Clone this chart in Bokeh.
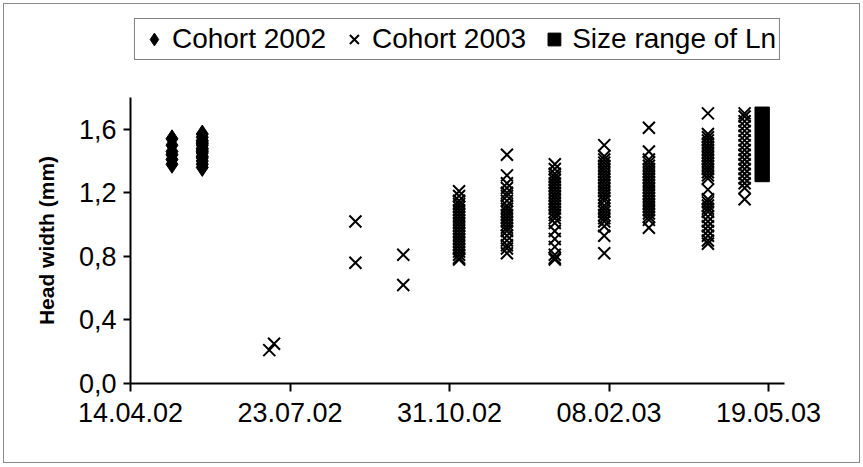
import pandas as pd
from bokeh.plotting import figure
from bokeh.layouts import column
from bokeh.models import (ColumnDataSource, FixedTicker, DatetimeTickFormatter,
                          CustomJSTickFormatter, Legend, LegendItem, Range1d)
from bokeh.embed import file_html
from bokeh.resources import INLINE

# ---------------- data ----------------
dates_2002 = ["2002-05-10", "2002-05-29"]
hw_2002 = [
    [1.38, 1.41, 1.44, 1.46, 1.50, 1.54],
    [1.36, 1.38, 1.40, 1.42, 1.43, 1.45, 1.46, 1.47, 1.48, 1.50, 1.51, 1.52, 1.53, 1.55, 1.57],
]

dates_2003 = ["2002-07-10", "2002-07-13", "2002-09-02", "2002-10-02", "2002-11-06",
              "2002-12-06", "2003-01-05", "2003-02-05", "2003-03-05", "2003-04-11",
              "2003-05-04"]
hw_2003 = [
    [0.21],
    [0.25],
    [1.02, 0.76],
    [0.81, 0.62],
    [1.21, 1.18, 1.15, 1.13, 1.11, 1.09, 1.07, 1.05, 1.03, 1.01, 0.99, 0.97, 0.95,
     0.93, 0.91, 0.89, 0.87, 0.85, 0.83, 0.81, 0.79, 0.78],
    [1.44, 1.31, 1.26, 1.23, 1.20, 1.18, 1.15, 1.12, 1.10, 1.08, 1.06, 1.04, 1.02,
     1.00, 0.98, 0.96, 0.93, 0.90, 0.87, 0.85, 0.82],
    [1.38, 1.35, 1.32, 1.30, 1.28, 1.26, 1.24, 1.22, 1.20, 1.18, 1.16, 1.14, 1.12,
     1.10, 1.08, 1.06, 1.04, 1.01, 0.96, 0.91, 0.86, 0.81, 0.79, 0.78],
    [1.50, 1.43, 1.41, 1.39, 1.37, 1.35, 1.33, 1.31, 1.29, 1.27, 1.25, 1.23, 1.21,
     1.19, 1.17, 1.15, 1.12, 1.10, 1.08, 1.06, 1.04, 1.02, 0.99, 0.93, 0.82],
    [1.61, 1.46, 1.41, 1.39, 1.37, 1.35, 1.33, 1.31, 1.29, 1.27, 1.25, 1.23, 1.21,
     1.19, 1.17, 1.15, 1.13, 1.11, 1.09, 1.07, 1.05, 1.03, 0.98],
    [1.70, 1.57, 1.55, 1.53, 1.51, 1.49, 1.47, 1.45, 1.43, 1.41, 1.39, 1.37, 1.35,
     1.33, 1.31, 1.29, 1.22, 1.16, 1.14, 1.12, 1.10, 1.08, 1.05, 1.02, 0.99, 0.96,
     0.93, 0.90, 0.88],
    [1.70, 1.68, 1.65, 1.62, 1.59, 1.56, 1.53, 1.50, 1.47, 1.44, 1.41, 1.38, 1.35,
     1.32, 1.29, 1.26, 1.23, 1.16],
]

ln_date = ["2003-05-15"]
ln_min = [1.27]
ln_max = [1.74]
ln_width_days = 9

tick_dates = ["2002-04-14", "2002-07-23", "2002-10-31", "2003-02-08", "2003-05-19"]
x_start, x_end = "2002-04-14", "2003-05-29"
y_ticks = [0.0, 0.4, 0.8, 1.2, 1.6]
y_axis_min, y_axis_max = 0.0, 1.8

# ---------------- layout constants (pixels) ----------------
W = 863
LEG_H = 97            # strip above the plot that holds the legend
PLOT_H = 369
LEFT, RIGHT, BOTTOM = 130, 79, 83

# ---------------- build sources ----------------
def flatten(dates, vals):
    xs, ys = [], []
    for d, vv in zip(dates, vals):
        for v in vv:
            xs.append(pd.Timestamp(d))
            ys.append(v)
    return ColumnDataSource(dict(x=xs, y=ys))

src02 = flatten(dates_2002, hw_2002)
src03 = flatten(dates_2003, hw_2003)
src_ln = ColumnDataSource(dict(x=pd.to_datetime(ln_date), bottom=ln_min, top=ln_max))

FONT = "Liberation Sans"

# ---------------- main plot ----------------
p = figure(width=W, height=PLOT_H, x_axis_type="datetime",
           output_backend="svg", toolbar_location=None,
           x_range=Range1d(pd.Timestamp(x_start), pd.Timestamp(x_end)),
           y_range=Range1d(y_axis_min, y_axis_max),
           min_border_left=LEFT, min_border_right=RIGHT,
           min_border_top=0, min_border_bottom=BOTTOM)

p.outline_line_color = None
p.grid.grid_line_color = None
p.background_fill_alpha = 0
p.border_fill_alpha = 0

p.scatter("x", "y", source=src02, marker="diamond", size=18,
          fill_color="black", line_color="black")
p.scatter("x", "y", source=src03, marker="x", size=17,
          line_color="black", line_width=2)
p.vbar(x="x", bottom="bottom", top="top", source=src_ln,
       width=ln_width_days * 86400000, fill_color="black", line_color="black")

# x axis
xa = p.xaxis[0]
xa.ticker = FixedTicker(ticks=[pd.Timestamp(d).value // 10**6 for d in tick_dates])
fmt = "%d.%m.%y"
xa.formatter = DatetimeTickFormatter(milliseconds=fmt, seconds=fmt, minsec=fmt,
                                     minutes=fmt, hourmin=fmt, hours=fmt, days=fmt,
                                     months=fmt, years=fmt)
xa.minor_tick_line_color = None
xa.major_tick_out = 8
xa.major_tick_in = 0
xa.major_label_standoff = 11

# y axis
ya = p.yaxis[0]
ya.ticker = FixedTicker(ticks=y_ticks)
ya.formatter = CustomJSTickFormatter(code="return tick.toFixed(1).replace('.', ',');")
ya.minor_tick_line_color = None
ya.major_tick_out = 7
ya.major_tick_in = 0
ya.major_label_standoff = 7
ya.axis_label = "Head width (mm)"
ya.axis_label_text_font = FONT
ya.axis_label_text_font_style = "bold"
ya.axis_label_text_font_size = "21px"
ya.axis_label_text_color = "black"
ya.axis_label_standoff = 18

for ax in (xa, ya):
    ax.axis_line_width = 2
    ax.axis_line_color = "black"
    ax.major_tick_line_width = 2
    ax.major_tick_line_color = "black"
    ax.major_label_text_font = FONT
    ax.major_label_text_font_size = "27px"
    ax.major_label_text_color = "black"

# ---------------- legend strip ----------------
lg = figure(width=W, height=LEG_H, output_backend="svg", toolbar_location=None,
            x_axis_location=None, y_axis_location=None,
            min_border=0, x_axis_type="datetime",
            x_range=Range1d(pd.Timestamp(x_start), pd.Timestamp(x_end)),
            y_range=Range1d(y_axis_min, y_axis_max))
lg.outline_line_color = None
lg.grid.grid_line_color = None
lg.background_fill_alpha = 0
lg.border_fill_alpha = 0

# zero-size markers sharing the data sources; they only provide the legend swatches
k02 = lg.scatter("x", "y", source=src02, marker="diamond", size=0,
                 fill_color="black", line_color="black")
k03 = lg.scatter("x", "y", source=src03, marker="x", size=0,
                 line_color="black", line_width=2)
kln = lg.scatter("x", "top", source=src_ln, marker="square", size=0,
                 fill_color="black", line_color="black")

legend = Legend(items=[LegendItem(label="Cohort 2002", renderers=[k02]),
                       LegendItem(label="Cohort 2003", renderers=[k03]),
                       LegendItem(label="Size range of Ln", renderers=[kln])],
                orientation="horizontal", location="top_center",
                label_text_font=FONT, label_text_font_size="28px",
                label_text_color="black",
                glyph_width=32, glyph_height=34, label_standoff=2, spacing=12,
                padding=3, margin=18,
                border_line_color="black", border_line_width=1,
                background_fill_color="white", background_fill_alpha=1.0)
lg.add_layout(legend, "center")

layout = column(lg, p, spacing=0)
# thin grey frame round the whole chart; the figures are transparent so it shows through
layout.styles = {"outline": "1px solid #8a8a8a", "outline-offset": "-4px",
                 "background-color": "white"}

open("out.html", "w").write(file_html(layout, INLINE))
